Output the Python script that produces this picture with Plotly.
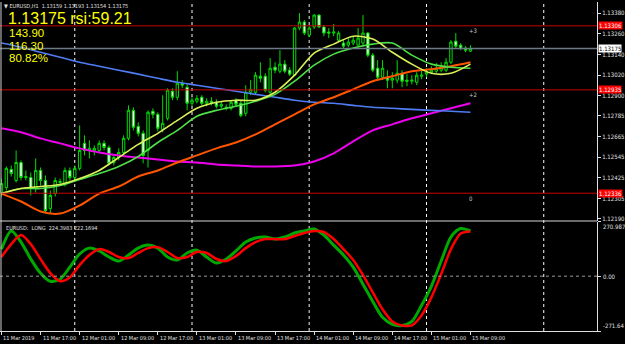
import plotly.graph_objects as go

# ---------------- data ----------------
bar_idx = list(range(97))  # H1 bars, 11 Mar 09:00 .. 15 Mar 09:00

opens = [1.12340,1.12369,1.12474,1.12410,1.12514,1.12427,1.12427,1.12363,1.12468,1.12410,
         1.12247,1.12334,1.12398,1.12392,1.12468,1.12427,1.12480,1.12625,1.12584,1.12584,
         1.12584,1.12625,1.12601,1.12514,1.12543,1.12572,1.12654,1.12816,1.12723,1.12683,
         1.12584,1.12811,1.12793,1.12706,1.12770,1.12927,1.12892,1.12973,1.12950,1.12857,
         1.12869,1.12892,1.12857,1.12869,1.12863,1.12840,1.12834,1.12828,1.12875,1.12857,
         1.12799,1.12921,1.12921,1.13014,1.13014,1.12921,1.13066,1.13043,1.13084,1.13049,
         1.13020,1.13293,1.13328,1.13252,1.13299,1.13368,1.13299,1.13270,1.13264,1.13223,
         1.13206,1.13194,1.13206,1.13194,1.13206,1.13264,1.13136,1.13060,1.13008,1.13008,
         1.12991,1.12991,1.13031,1.12991,1.12985,1.12979,1.13014,1.13026,1.13037,1.13043,
         1.13049,1.13049,1.13095,1.13217,1.13194,1.13177,1.13159]
highs = [1.12421,1.12491,1.12497,1.12584,1.12526,1.12468,1.12456,1.12538,1.12485,1.12439,
         1.12352,1.12427,1.12421,1.12485,1.12485,1.12497,1.12729,1.12671,1.12642,1.12613,
         1.12642,1.12642,1.12613,1.12555,1.12596,1.12671,1.12845,1.12834,1.12747,1.12700,
         1.12816,1.12828,1.12805,1.12904,1.12944,1.12944,1.13043,1.12991,1.12967,1.12892,
         1.12904,1.12904,1.12886,1.12892,1.12880,1.12869,1.12851,1.12875,1.12886,1.12875,
         1.12962,1.12991,1.13037,1.13095,1.13031,1.13119,1.13095,1.13165,1.13107,1.13066,
         1.13299,1.13380,1.13339,1.13304,1.13374,1.13374,1.13310,1.13293,1.13316,1.13275,
         1.13223,1.13235,1.13241,1.13293,1.13368,1.13270,1.13148,1.13107,1.13107,1.13049,
         1.13037,1.13107,1.13049,1.13026,1.13020,1.13037,1.13049,1.13060,1.13072,1.13090,
         1.13095,1.13119,1.13223,1.13264,1.13206,1.13188,1.13193]
lows = [1.12317,1.12352,1.12433,1.12398,1.12410,1.12410,1.12323,1.12340,1.12381,1.12218,
        1.12218,1.12317,1.12381,1.12375,1.12410,1.12410,1.12468,1.12555,1.12538,1.12555,
        1.12572,1.12584,1.12497,1.12497,1.12526,1.12555,1.12642,1.12700,1.12665,1.12509,
        1.12485,1.12770,1.12694,1.12689,1.12758,1.12875,1.12875,1.12944,1.12816,1.12840,
        1.12857,1.12845,1.12840,1.12845,1.12828,1.12828,1.12816,1.12816,1.12840,1.12776,
        1.12782,1.12904,1.12909,1.12979,1.12921,1.12909,1.13031,1.13031,1.13031,1.13014,
        1.13014,1.13281,1.13252,1.13241,1.13287,1.13293,1.13246,1.13235,1.13246,1.13212,
        1.13177,1.13182,1.13194,1.13188,1.13194,1.13124,1.13037,1.12991,1.12991,1.12944,
        1.12944,1.12973,1.12950,1.12956,1.12967,1.12962,1.12997,1.13008,1.13026,1.13031,
        1.13037,1.13037,1.13084,1.13177,1.13165,1.13153,1.13154]
closes = [1.12392,1.12480,1.12450,1.12514,1.12427,1.12433,1.12363,1.12468,1.12410,1.12235,
          1.12323,1.12410,1.12404,1.12468,1.12427,1.12480,1.12584,1.12584,1.12596,1.12596,
          1.12625,1.12601,1.12509,1.12543,1.12572,1.12654,1.12816,1.12718,1.12683,1.12555,
          1.12805,1.12793,1.12712,1.12741,1.12933,1.12892,1.12973,1.12962,1.12857,1.12875,
          1.12886,1.12857,1.12869,1.12857,1.12840,1.12851,1.12828,1.12863,1.12851,1.12787,
          1.12921,1.12938,1.13020,1.13002,1.12933,1.13060,1.13049,1.13084,1.13043,1.13026,
          1.13293,1.13328,1.13264,1.13293,1.13368,1.13299,1.13264,1.13264,1.13270,1.13264,
          1.13188,1.13212,1.13223,1.13235,1.13264,1.13136,1.13049,1.13008,1.13060,1.12991,
          1.13002,1.13031,1.12985,1.12985,1.12991,1.13020,1.13020,1.13037,1.13049,1.13060,
          1.13066,1.13095,1.13212,1.13188,1.13177,1.13165,1.13175]

# moving averages sampled every 4 bars
ma_idx = list(range(0, 97, 4))
ma_yellow = [1.12334,1.12363,1.12375,1.12387,1.12421,1.12468,1.12543,1.12619,1.12683,1.12758,
             1.12828,1.12863,1.12875,1.12875,1.12921,1.13020,1.13148,1.13200,1.13246,1.13229,
             1.13153,1.13084,1.13031,1.13031,1.13084]
ma_green = [1.12334,1.12363,1.12363,1.12381,1.12416,1.12450,1.12491,1.12549,1.12630,1.12700,
            1.12782,1.12816,1.12840,1.12869,1.12909,1.12985,1.13078,1.13142,1.13177,1.13200,
            1.13206,1.13136,1.13084,1.13066,1.13060]
ma_orange = [1.12334,1.12288,1.12230,1.12218,1.12265,1.12334,1.12375,1.12433,1.12468,1.12514,
             1.12555,1.12596,1.12630,1.12677,1.12735,1.12793,1.12851,1.12892,1.12938,1.12985,
             1.13014,1.13043,1.13055,1.13072,1.13095]
ma_blue = [1.13206,1.13182,1.13153,1.13124,1.13095,1.13072,1.13049,1.13026,1.13002,1.12979,
           1.12962,1.12944,1.12927,1.12909,1.12892,1.12875,1.12863,1.12857,1.12845,1.12834,
           1.12828,1.12822,1.12816,1.12811,1.12805]
ma_magenta = [1.12712,1.12689,1.12654,1.12625,1.12596,1.12572,1.12555,1.12543,1.12532,1.12520,
              1.12514,1.12503,1.12497,1.12491,1.12491,1.12497,1.12520,1.12567,1.12636,1.12700,
              1.12735,1.12770,1.12799,1.12828,1.12857]

# oscillator (lower window) sampled every 2 bars
osc_idx = list(range(0, 97, 2))
osc_green = [134,224,169,85,15,-25,-15,45,110,139,125,95,75,105,139,154,139,95,80,115,
             129,95,65,85,125,169,189,194,184,194,214,224,234,204,154,105,45,-40,-125,-204,
             -239,-244,-224,-144,-50,75,194,236,224]
osc_red = [95,159,204,159,85,15,-25,-5,55,105,134,120,95,90,115,139,144,120,90,95,
           120,115,85,75,100,139,169,184,184,184,199,214,224,219,184,134,80,5,-80,-164,
           -224,-244,-244,-194,-105,10,134,212,222]

# time axis labels
time_tick_idx = [0, 8, 16, 24, 32, 40, 48, 56, 64, 72, 80, 88, 96]
time_labels = ["11 Mar 2019", "11 Mar 17:00", "12 Mar 01:00", "12 Mar 09:00", "12 Mar 17:00",
               "13 Mar 01:00", "13 Mar 09:00", "13 Mar 17:00", "14 Mar 01:00", "14 Mar 09:00",
               "14 Mar 17:00", "15 Mar 01:00", "15 Mar 09:00"]
day_sep_idx = [15, 39, 63, 87, 111]

price_ticks = [1.13380, 1.13260, 1.13140, 1.13020, 1.12900, 1.12785, 1.12665,
               1.12545, 1.12425, 1.12305, 1.12190]
red_levels = [1.13306, 1.12935, 1.12336]
level_tags = ["+3", "+2", "0"]
current_price = 1.13175
osc_top, osc_bottom = 270.987, -271.64
stats_lines = ["143.90", "116.30", "80.82%"]

# ---------------- layout helpers (pixel -> paper) ----------------
W, H = 625, 344
L, R, T, B = 0, 25, 2, 13
PW, PH = W - L - R, H - T - B


def px(x):
    return (x - L) / PW


def py(y):
    return (H - B - y) / PH


SMALL = "DejaVu Sans Condensed, Liberation Sans Narrow, Liberation Sans, sans-serif"
BIG = "Liberation Sans, Arial, sans-serif"
CANDLE = "#00dd00"
TXT = "#e0e0e0"

fig = go.Figure()
fig.add_trace(go.Candlestick(
    x=bar_idx, open=opens, high=highs, low=lows, close=closes,
    increasing=dict(line=dict(color=CANDLE, width=1), fillcolor="black"),
    decreasing=dict(line=dict(color=CANDLE, width=1), fillcolor="white"),
    whiskerwidth=0, xaxis="x", yaxis="y", hoverinfo="skip"))

for vals, col, w in [(ma_magenta, "#ee00ee", 2), (ma_blue, "#4f7df5", 1.6),
                     (ma_orange, "#ff5500", 2), (ma_green, "#4ee046", 1.6),
                     (ma_yellow, "#dcf05a", 1.6)]:
    fig.add_trace(go.Scatter(x=ma_idx, y=vals, mode="lines",
                             line=dict(color=col, width=w, shape="spline", smoothing=0.8),
                             xaxis="x", yaxis="y", hoverinfo="skip"))

fig.add_trace(go.Scatter(x=osc_idx, y=osc_green, mode="lines",
                         line=dict(color="#00a800", width=3, shape="spline", smoothing=0.8),
                         xaxis="x", yaxis="y2", hoverinfo="skip"))
fig.add_trace(go.Scatter(x=osc_idx, y=osc_red, mode="lines",
                         line=dict(color="#ff0000", width=2.5, shape="spline", smoothing=0.8),
                         xaxis="x", yaxis="y2", hoverinfo="skip"))

main_bottom = py(220.5)
low_top = py(221.5)

shapes = []
for lv in red_levels:
    shapes.append(dict(type="line", xref="paper", yref="y", x0=0, x1=1, y0=lv, y1=lv,
                       line=dict(color="#c80000", width=1)))
shapes.append(dict(type="line", xref="paper", yref="y", x0=0, x1=1, y0=current_price,
                   y1=current_price, line=dict(color="#6c7a86", width=1.5)))
shapes.append(dict(type="line", xref="paper", yref="y2", x0=0, x1=1, y0=0, y1=0,
                   line=dict(color="#9a9a9a", width=1, dash="dot")))
for k, d in enumerate(day_sep_idx):
    col = "#a0a0a0" if k == 2 else "white"
    wd = 1.5 if k == 2 else 1
    shapes.append(dict(type="line", xref="x", yref="paper", x0=d, x1=d, y0=0, y1=1,
                       line=dict(color=col, width=wd, dash="dot"), layer="below"))
shapes.append(dict(type="line", xref="paper", yref="paper", x0=0, x1=1, y0=py(221),
                   y1=py(221), line=dict(color="#d8d8d8", width=1)))
shapes.append(dict(type="line", xref="paper", yref="paper", x0=px(1), x1=px(1), y0=0, y1=1,
                   line=dict(color="#cfcfcf", width=1)))

ann = []
ann.append(dict(x=px(2), y=py(6), xref="paper", yref="paper", xanchor="left", yanchor="middle",
                text="▼ EURUSD,H1  1.13159 1.13193 1.13154 1.13175", showarrow=False,
                font=dict(family=SMALL, size=5.5, color=TXT)))
ann.append(dict(x=px(6), y=py(18), xref="paper", yref="paper", xanchor="left",
                yanchor="middle", text="1.13175 rsi:59.21", showarrow=False,
                font=dict(family=BIG, size=16, color="#ffff00")))
for txt, yy in zip(stats_lines, [33.5, 46, 58.5]):
    ann.append(dict(x=px(7), y=py(yy), xref="paper", yref="paper", xanchor="left",
                    yanchor="middle", text=txt, showarrow=False,
                    font=dict(family=BIG, size=11.5, color="#ffff00")))
ann.append(dict(x=px(4), y=py(228), xref="paper", yref="paper", xanchor="left", yanchor="middle",
                text="EURUSD:  LONG  224.3983 222.1694", showarrow=False,
                font=dict(family=SMALL, size=5.5, color=TXT)))
for lv, tg in zip(red_levels, level_tags):
    ann.append(dict(x=px(469), y=lv - 0.00029, xref="paper", yref="y", xanchor="left",
                    yanchor="middle", text=tg, showarrow=False,
                    font=dict(family=SMALL, size=6, color="#cfcfcf")))
for lv in red_levels:
    ann.append(dict(x=px(601), y=lv, xref="paper", yref="y", xanchor="left", yanchor="middle",
                    text=f"{lv:.5f}", showarrow=False, bgcolor="#ff0000", borderpad=0,
                    font=dict(family=SMALL, size=6, color="white")))
ann.append(dict(x=px(601), y=current_price, xref="paper", yref="y", xanchor="left",
                yanchor="middle", text=f"{current_price:.5f}", showarrow=False,
                bgcolor="white", borderpad=0, font=dict(family=SMALL, size=6, color="black")))
for val, txt, ya in [(osc_top, "270.987", "top"), (0, "0.00", "middle"),
                     (osc_bottom, "-271.64", "bottom")]:
    ann.append(dict(x=px(604), y=val, xref="paper", yref="y2", xanchor="left", yanchor=ya,
                    text=txt, showarrow=False, font=dict(family=SMALL, size=6, color=TXT)))
for i, t in zip(time_tick_idx, time_labels):
    ann.append(dict(x=i, y=py(337.5), xref="x", yref="paper", xanchor="left", yanchor="middle",
                    text=t, showarrow=False, font=dict(family=SMALL, size=5.5, color=TXT)))

fig.update_layout(
    width=W, height=H, margin=dict(l=L, r=R, t=T, b=B),
    paper_bgcolor="black", plot_bgcolor="black", showlegend=False,
    xaxis=dict(domain=[0, 1], range=[-0.3, 121.9], anchor="y2", showgrid=False, zeroline=False,
               rangeslider=dict(visible=False), tickmode="array", tickvals=time_tick_idx,
               ticks="outside", ticklen=3, tickcolor=TXT, showticklabels=False,
               showline=True, linecolor=TXT, linewidth=1),
    yaxis=dict(domain=[main_bottom, 1], range=[1.12178, 1.13444], side="right", anchor="x",
               showgrid=False, zeroline=False, tickmode="array", tickvals=price_ticks,
               ticktext=[f"{v:.5f}" for v in price_ticks], ticks="outside", ticklen=3,
               tickcolor=TXT, tickfont=dict(family=SMALL, size=6, color=TXT),
               showline=True, linecolor=TXT, linewidth=1),
    yaxis2=dict(domain=[0, low_top], range=[osc_bottom, osc_top], side="right", anchor="x",
                showgrid=False, zeroline=False, tickmode="array",
                tickvals=[osc_top, 0, osc_bottom], ticks="outside", ticklen=3,
                tickcolor=TXT, showticklabels=False,
                showline=True, linecolor=TXT, linewidth=1),
    shapes=shapes, annotations=ann,
)

fig.write_html("out.html")
